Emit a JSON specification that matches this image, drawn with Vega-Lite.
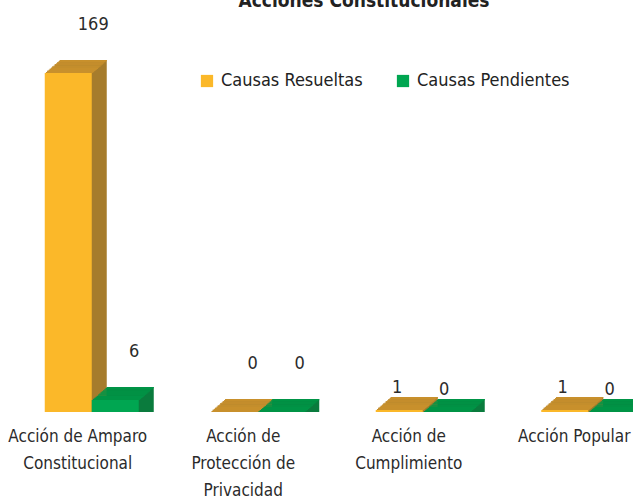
{
  "$schema": "https://vega.github.io/schema/vega-lite/v6.json",
  "width": 624,
  "height": 339,
  "autosize": "none",
  "padding": {"left": 9, "top": 73, "right": 0, "bottom": 89},
  "background": "white",
  "title": {
    "text": "Acciones Constitucionales",
    "font": "Liberation Sans Narrow, DejaVu Sans Condensed, sans-serif",
    "fontSize": 19,
    "fontWeight": "bold",
    "color": "#222222",
    "anchor": "middle",
    "frame": "group",
    "orient": "top",
    "baseline": "alphabetic",
    "offset": 0,
    "dx": 43,
    "dy": 10
  },
  "config": {"view": {"stroke": null}},
  "data": {
    "values": [
      {"cat": "Acción de Amparo Constitucional", "serie": "Causas Resueltas", "v": 169},
      {"cat": "Acción de Amparo Constitucional", "serie": "Causas Pendientes", "v": 6},
      {"cat": "Acción de Protección de Privacidad", "serie": "Causas Resueltas", "v": 0},
      {"cat": "Acción de Protección de Privacidad", "serie": "Causas Pendientes", "v": 0},
      {"cat": "Acción de Cumplimiento", "serie": "Causas Resueltas", "v": 1},
      {"cat": "Acción de Cumplimiento", "serie": "Causas Pendientes", "v": 0},
      {"cat": "Acción Popular", "serie": "Causas Resueltas", "v": 1},
      {"cat": "Acción Popular", "serie": "Causas Pendientes", "v": 0}
    ]
  },
  "encoding": {
    "x": {
      "field": "cat", "type": "nominal", "sort": null,
      "scale": {"range": [0, 662], "paddingInner": 0.432, "paddingOuter": 0.216},
      "axis": {
        "title": null, "domain": false, "ticks": false, "labelAngle": 0,
        "labelFont": "Liberation Sans Narrow, DejaVu Sans Condensed, sans-serif",
        "labelFontSize": 17, "labelColor": "#2b2b2b", "labelPadding": 16,
        "labelLineHeight": 27, "labelOffset": -14, "labelOverlap": false,
        "labelBound": false, "labelLimit": 0,
        "labelExpr": "datum.value == 'Acción de Amparo Constitucional' ? ['Acción de Amparo','Constitucional'] : datum.value == 'Acción de Protección de Privacidad' ? ['Acción de','Protección de','Privacidad'] : datum.value == 'Acción de Cumplimiento' ? ['Acción de','Cumplimiento'] : datum.value"
      }
    },
    "y": {"field": "v", "type": "quantitative", "axis": null, "stack": null, "scale": {"domain": [0, 169], "nice": false}}
  },
  "layer": [
    {"mark": {"type": "bar", "width": 47, "xOffset": {"expr": "(datum.serie == 'Causas Resueltas' ? -23.5 : 23.5) + 2.5"}, "yOffset": -2.2, "y2Offset": -2.2},
     "encoding": {"color": {"condition": {"test": "datum.serie == 'Causas Resueltas'", "value": "#A67C2C"}, "value": "#0A7B3D"}}},
    {"mark": {"type": "bar", "width": 47, "xOffset": {"expr": "(datum.serie == 'Causas Resueltas' ? -23.5 : 23.5) + 5"}, "yOffset": -4.3, "y2Offset": -4.3},
     "encoding": {"color": {"condition": {"test": "datum.serie == 'Causas Resueltas'", "value": "#A67C2C"}, "value": "#0A7B3D"}}},
    {"mark": {"type": "bar", "width": 47, "xOffset": {"expr": "(datum.serie == 'Causas Resueltas' ? -23.5 : 23.5) + 7.5"}, "yOffset": -6.5, "y2Offset": -6.5},
     "encoding": {"color": {"condition": {"test": "datum.serie == 'Causas Resueltas'", "value": "#A67C2C"}, "value": "#0A7B3D"}}},
    {"mark": {"type": "bar", "width": 47, "xOffset": {"expr": "(datum.serie == 'Causas Resueltas' ? -23.5 : 23.5) + 10"}, "yOffset": -8.7, "y2Offset": -8.7},
     "encoding": {"color": {"condition": {"test": "datum.serie == 'Causas Resueltas'", "value": "#A67C2C"}, "value": "#0A7B3D"}}},
    {"mark": {"type": "bar", "width": 47, "xOffset": {"expr": "(datum.serie == 'Causas Resueltas' ? -23.5 : 23.5) + 12.5"}, "yOffset": -10.8, "y2Offset": -10.8},
     "encoding": {"color": {"condition": {"test": "datum.serie == 'Causas Resueltas'", "value": "#A67C2C"}, "value": "#0A7B3D"}}},
    {"mark": {"type": "bar", "width": 47, "xOffset": {"expr": "(datum.serie == 'Causas Resueltas' ? -23.5 : 23.5) + 15"}, "yOffset": -13, "y2Offset": -13},
     "encoding": {"color": {"condition": {"test": "datum.serie == 'Causas Resueltas'", "value": "#A67C2C"}, "value": "#0A7B3D"}}},

    {"mark": {"type": "bar", "width": 47, "xOffset": {"expr": "(datum.serie == 'Causas Resueltas' ? -23.5 : 23.5) + 1.2"}, "yOffset": -1.1, "y2Offset": 0},
     "encoding": {"y2": {"field": "v"}, "color": {"condition": {"test": "datum.serie == 'Causas Resueltas'", "value": "#C8902C"}, "value": "#009446"}}},
    {"mark": {"type": "bar", "width": 47, "xOffset": {"expr": "(datum.serie == 'Causas Resueltas' ? -23.5 : 23.5) + 2.5"}, "yOffset": -2.2, "y2Offset": -0.8},
     "encoding": {"y2": {"field": "v"}, "color": {"condition": {"test": "datum.serie == 'Causas Resueltas'", "value": "#C8902C"}, "value": "#009446"}}},
    {"mark": {"type": "bar", "width": 47, "xOffset": {"expr": "(datum.serie == 'Causas Resueltas' ? -23.5 : 23.5) + 3.8"}, "yOffset": -3.3, "y2Offset": -1.9},
     "encoding": {"y2": {"field": "v"}, "color": {"condition": {"test": "datum.serie == 'Causas Resueltas'", "value": "#C8902C"}, "value": "#009446"}}},
    {"mark": {"type": "bar", "width": 47, "xOffset": {"expr": "(datum.serie == 'Causas Resueltas' ? -23.5 : 23.5) + 5"}, "yOffset": -4.3, "y2Offset": -3.0},
     "encoding": {"y2": {"field": "v"}, "color": {"condition": {"test": "datum.serie == 'Causas Resueltas'", "value": "#C8902C"}, "value": "#009446"}}},
    {"mark": {"type": "bar", "width": 47, "xOffset": {"expr": "(datum.serie == 'Causas Resueltas' ? -23.5 : 23.5) + 6.3"}, "yOffset": -5.4, "y2Offset": -4.1},
     "encoding": {"y2": {"field": "v"}, "color": {"condition": {"test": "datum.serie == 'Causas Resueltas'", "value": "#C8902C"}, "value": "#009446"}}},
    {"mark": {"type": "bar", "width": 47, "xOffset": {"expr": "(datum.serie == 'Causas Resueltas' ? -23.5 : 23.5) + 7.5"}, "yOffset": -6.5, "y2Offset": -5.2},
     "encoding": {"y2": {"field": "v"}, "color": {"condition": {"test": "datum.serie == 'Causas Resueltas'", "value": "#C8902C"}, "value": "#009446"}}},
    {"mark": {"type": "bar", "width": 47, "xOffset": {"expr": "(datum.serie == 'Causas Resueltas' ? -23.5 : 23.5) + 8.8"}, "yOffset": -7.6, "y2Offset": -6.3},
     "encoding": {"y2": {"field": "v"}, "color": {"condition": {"test": "datum.serie == 'Causas Resueltas'", "value": "#C8902C"}, "value": "#009446"}}},
    {"mark": {"type": "bar", "width": 47, "xOffset": {"expr": "(datum.serie == 'Causas Resueltas' ? -23.5 : 23.5) + 10"}, "yOffset": -8.7, "y2Offset": -7.4},
     "encoding": {"y2": {"field": "v"}, "color": {"condition": {"test": "datum.serie == 'Causas Resueltas'", "value": "#C8902C"}, "value": "#009446"}}},
    {"mark": {"type": "bar", "width": 47, "xOffset": {"expr": "(datum.serie == 'Causas Resueltas' ? -23.5 : 23.5) + 11.3"}, "yOffset": -9.8, "y2Offset": -8.5},
     "encoding": {"y2": {"field": "v"}, "color": {"condition": {"test": "datum.serie == 'Causas Resueltas'", "value": "#C8902C"}, "value": "#009446"}}},
    {"mark": {"type": "bar", "width": 47, "xOffset": {"expr": "(datum.serie == 'Causas Resueltas' ? -23.5 : 23.5) + 12.5"}, "yOffset": -10.8, "y2Offset": -9.6},
     "encoding": {"y2": {"field": "v"}, "color": {"condition": {"test": "datum.serie == 'Causas Resueltas'", "value": "#C8902C"}, "value": "#009446"}}},
    {"mark": {"type": "bar", "width": 47, "xOffset": {"expr": "(datum.serie == 'Causas Resueltas' ? -23.5 : 23.5) + 13.8"}, "yOffset": -12, "y2Offset": -10.7},
     "encoding": {"y2": {"field": "v"}, "color": {"condition": {"test": "datum.serie == 'Causas Resueltas'", "value": "#C8902C"}, "value": "#009446"}}},
    {"mark": {"type": "bar", "width": 47, "xOffset": {"expr": "(datum.serie == 'Causas Resueltas' ? -23.5 : 23.5) + 15"}, "yOffset": -13, "y2Offset": -11.8},
     "encoding": {"y2": {"field": "v"}, "color": {"condition": {"test": "datum.serie == 'Causas Resueltas'", "value": "#C8902C"}, "value": "#009446"}}},

    {"mark": {"type": "bar", "width": 47, "xOffset": {"expr": "datum.serie == 'Causas Resueltas' ? -23.5 : 23.5"}},
     "encoding": {
       "color": {
         "field": "serie", "type": "nominal",
         "scale": {"domain": ["Causas Resueltas", "Causas Pendientes"], "range": ["#FBB829", "#00A651"]},
         "legend": {
           "title": null, "orient": "none", "direction": "horizontal",
           "legendX": 189, "legendY": -1,
           "symbolType": "square", "symbolSize": 150, "symbolStrokeWidth": 0,
           "labelFont": "Liberation Sans Narrow, DejaVu Sans Condensed, sans-serif",
           "labelFontSize": 18, "labelColor": "#222222", "labelOffset": 5,
           "columnPadding": 31, "labelLimit": 0
         }
       }
     }},
    {"mark": {"type": "text", "baseline": "middle", "align": "center",
              "font": "Liberation Sans Narrow, DejaVu Sans Condensed, sans-serif",
              "fontSize": 18, "color": "#2b2b2b",
              "dx": {"expr": "(datum.serie == 'Causas Resueltas' ? -23.5 : 23.5) + (datum.v > 100 ? 25 : indexof(['Acción de Cumplimiento','Acción Popular'], datum.cat) >= 0 ? -2 : 19)"},
              "dy": {"expr": "indexof(['Acción de Cumplimiento','Acción Popular'], datum.cat) >= 0 ? -22 : -48"}},
     "encoding": {"text": {"field": "v", "type": "quantitative"}}}
  ]
}
